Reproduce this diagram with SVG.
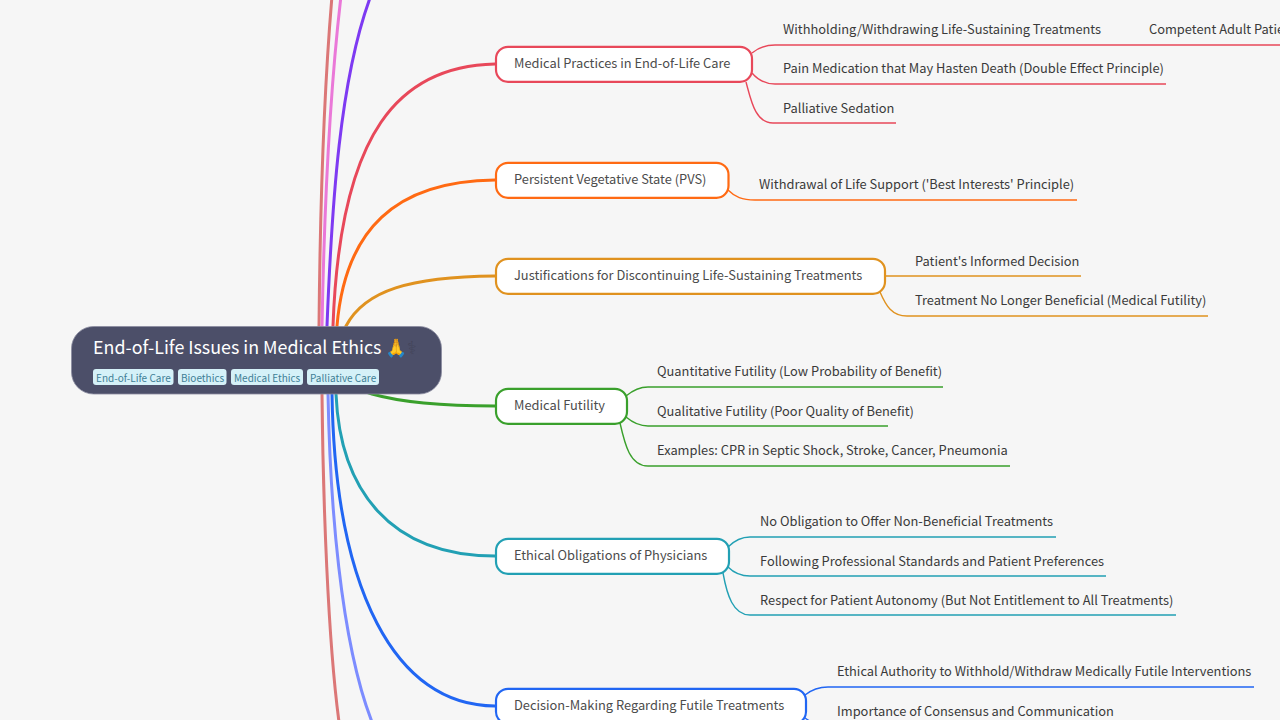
<svg xmlns="http://www.w3.org/2000/svg" width="1280" height="720" viewBox="0 0 1280 720">
<style>
text{font-family:"Noto Sans CJK SC","Noto Sans",sans-serif;fill:#3a3a3a;font-size:12.85px}
.c{fill:none;stroke-width:3}
.l{fill:none;stroke-width:1.4}
.n{fill:#fff;stroke-width:2.2}
.nt{fill:#4c4c4c}
.tag{fill:#d5f1f8}
.tt{font-size:10px;fill:#3f7f96}
</style>
<rect width="1280" height="720" fill="#f6f6f6"/>
<g id="connectors">
<path class="c" stroke="#db7777" d="M319 345V326C320 220 324 90 332 -4"/>
<path class="c" stroke="#ea78d8" d="M322 345V326C324 220 330 90 341 -4"/>
<path class="c" stroke="#7e3af2" d="M327 345V326C332 200 340 80 370 -2"/>
<path class="c" stroke="#e8485a" d="M333 345V326C340 130 400 66 495 64"/>
<path class="c" stroke="#ff6a13" d="M337 345V326C345 230 395 181 495 180"/>
<path class="c" stroke="#e0921f" d="M340 340L346 326C365 290 410 277 495 276"/>
<path class="c" stroke="#3aa02c" d="M360 390L372 394C400 402 440 406 495 406"/>
<path class="c" stroke="#22a0b4" d="M336 380V394C340 490 390 556 495 556"/>
<path class="c" stroke="#2166f3" d="M332 380V394C335 590 395 706 495 706"/>
<path class="c" stroke="#7c8cff" d="M328 380V394C330 500 340 640 372 722"/>
<path class="c" stroke="#db7777" d="M322 380V394C323 500 328 640 339 722"/>
<path class="l" stroke="#e8485a" d="M752 53C758 48 765 45 775 45H1280M752 73C758 80 765 84 775 84H1166M746 82C751 100 755 123 773 123H896"/>
<path class="l" stroke="#ff6a13" d="M728 190C735 197 742 200 755 200H1077"/>
<path class="l" stroke="#e0921f" d="M884 276H1081M880 292C886 306 892 316 907 316H1208"/>
<path class="l" stroke="#3aa02c" d="M626 396C632 391 638 387 648 387H943M626 417C632 422 638 426 648 426H888M620 423C625 445 630 466 648 466H1010"/>
<path class="l" stroke="#22a0b4" d="M728 547C733 542 740 537 750 537H1056M728 567C733 572 740 576 750 576H1106M723 573C727 595 733 615 750 615H1176"/>
<path class="l" stroke="#2166f3" d="M805 695C810 691 817 687 828 687H1254M804 717C810 722 817 726 828 726H1116"/>
</g>
<g id="root">
<rect x="71.500" y="326.500" width="370" height="67.500" rx="22" fill="#4c4f69" stroke="#8a8ca0" stroke-width="0.8"/>
<text x="93" y="354" style="font-size:17.85px;fill:#fff">End-of-Life Issues in Medical Ethics 🙏<tspan fill="#44465c">⚕</tspan></text>
<rect class="tag" x="93" y="369" width="80.500" height="16" rx="3"/><text class="tt" x="96" y="382">End-of-Life Care</text>
<rect class="tag" x="178" y="369" width="48.500" height="16" rx="3"/><text class="tt" x="181" y="382">Bioethics</text>
<rect class="tag" x="231" y="369" width="72" height="16" rx="3"/><text class="tt" x="234" y="382">Medical Ethics</text>
<rect class="tag" x="307" y="369" width="72" height="16" rx="3"/><text class="tt" x="310" y="382">Palliative Care</text>
</g>
<g id="n1"><rect class="n" stroke="#e8485a" x="496" y="46.800" width="256" height="35" rx="12"/><text class="nt" x="514" y="67.500">Medical Practices in End-of-Life Care</text></g>
<g id="n2"><rect class="n" stroke="#ff6a13" x="496" y="162.800" width="232.500" height="35" rx="12"/><text class="nt" x="514" y="183.500">Persistent Vegetative State (PVS)</text></g>
<g id="n3"><rect class="n" stroke="#e0921f" x="496" y="258.800" width="389" height="35" rx="12"/><text class="nt" x="514" y="279.500">Justifications for Discontinuing Life-Sustaining Treatments</text></g>
<g id="n4"><rect class="n" stroke="#3aa02c" x="496" y="388.800" width="131" height="35" rx="12"/><text class="nt" x="514" y="409.500">Medical Futility</text></g>
<g id="n5"><rect class="n" stroke="#22a0b4" x="496" y="538.800" width="233" height="35" rx="12"/><text class="nt" x="514" y="559.500">Ethical Obligations of Physicians</text></g>
<g id="n6"><rect class="n" stroke="#2166f3" x="496" y="688.800" width="310" height="35" rx="12"/><text class="nt" x="514" y="709.500">Decision-Making Regarding Futile Treatments</text></g>
<g id="leaves">
<text x="783" y="34">Withholding/Withdrawing Life-Sustaining Treatments</text>
<text x="1149" y="34">Competent Adult Patients</text>
<text x="783" y="73">Pain Medication that May Hasten Death (Double Effect Principle)</text>
<text x="783" y="113">Palliative Sedation</text>
<text x="759" y="189">Withdrawal of Life Support ('Best Interests' Principle)</text>
<text x="915" y="266">Patient's Informed Decision</text>
<text x="915" y="305">Treatment No Longer Beneficial (Medical Futility)</text>
<text x="657" y="376">Quantitative Futility (Low Probability of Benefit)</text>
<text x="657" y="416">Qualitative Futility (Poor Quality of Benefit)</text>
<text x="657" y="455">Examples: CPR in Septic Shock, Stroke, Cancer, Pneumonia</text>
<text x="760" y="526">No Obligation to Offer Non-Beneficial Treatments</text>
<text x="760" y="565.500">Following Professional Standards and Patient Preferences</text>
<text x="760" y="605">Respect for Patient Autonomy (But Not Entitlement to All Treatments)</text>
<text x="837" y="676">Ethical Authority to Withhold/Withdraw Medically Futile Interventions</text>
<text x="837" y="715.500">Importance of Consensus and Communication</text>
</g>
</svg>
